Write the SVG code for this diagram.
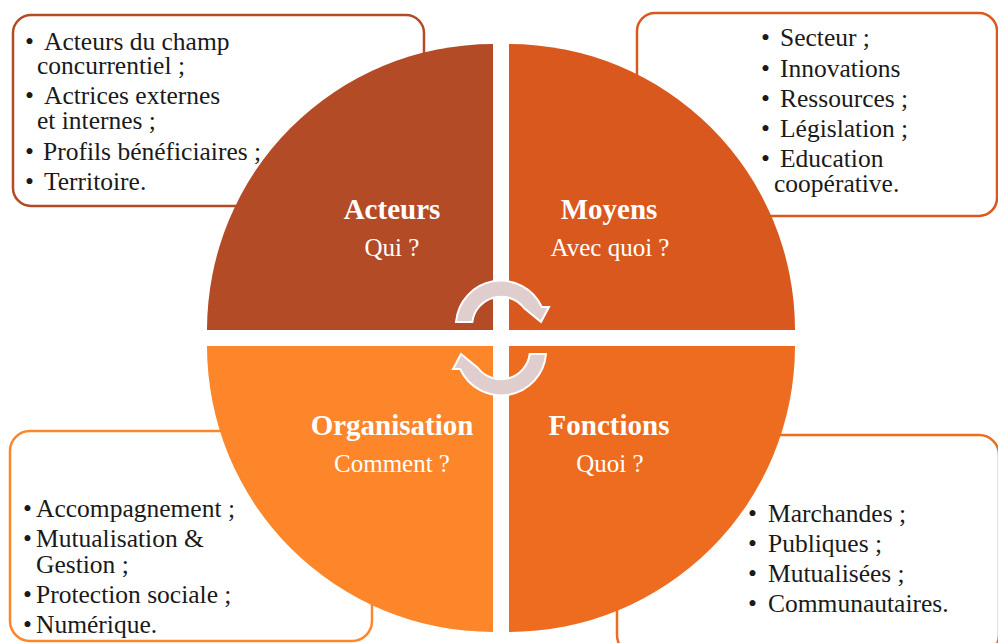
<svg xmlns="http://www.w3.org/2000/svg" width="998" height="643" viewBox="0 0 998 643">
<style>
.box{fill:#fff;stroke-width:2.5}
.body{font-family:"Liberation Serif","Times New Roman",serif;font-size:25.5px;fill:#1a1a1a}
.title{font-family:"Liberation Serif","Times New Roman",serif;font-size:29px;font-weight:bold;fill:#fff;text-anchor:middle}
.sub{font-family:"Liberation Serif","Times New Roman",serif;font-size:25px;fill:#fff;text-anchor:middle}
.arrow{fill:#e0cdcd;stroke:#fff;stroke-width:2;stroke-linejoin:miter}
</style>
<rect width="998" height="643" fill="#fff"/>
<g id="box-acteurs">
<rect class="box" x="13" y="15" width="411" height="191" rx="18" stroke="#b44b27"/>
<text class="body"><tspan x="25" y="50">•</tspan><tspan x="44" y="50">Acteurs du champ</tspan><tspan x="37" y="74">concurrentiel ;</tspan><tspan x="25" y="104">•</tspan><tspan x="44" y="104">Actrices externes</tspan><tspan x="37" y="129">et internes ;</tspan><tspan x="25" y="160">•</tspan><tspan x="43" y="160">Profils bénéficiaires ;</tspan><tspan x="25" y="190">•</tspan><tspan x="44" y="190">Territoire.</tspan></text>
</g>
<g id="box-moyens">
<rect class="box" x="637" y="13" width="360" height="203" rx="18" stroke="#d9581e"/>
<text class="body"><tspan x="761" y="46">•</tspan><tspan x="780" y="46">Secteur ;</tspan><tspan x="761" y="77">•</tspan><tspan x="780" y="77">Innovations</tspan><tspan x="761" y="107">•</tspan><tspan x="780" y="107">Ressources ;</tspan><tspan x="761" y="137">•</tspan><tspan x="780" y="137">Législation ;</tspan><tspan x="761" y="167">•</tspan><tspan x="780" y="167">Education</tspan><tspan x="774" y="192">coopérative.</tspan></text>
</g>
<g id="box-organisation">
<rect class="box" x="10" y="431" width="362" height="210" rx="20" stroke="#fc8629"/>
<text class="body"><tspan x="23" y="517">•</tspan><tspan x="36" y="517">Accompagnement ;</tspan><tspan x="23" y="547">•</tspan><tspan x="36" y="547">Mutualisation &amp;</tspan><tspan x="36" y="573">Gestion ;</tspan><tspan x="23" y="603">•</tspan><tspan x="36" y="603">Protection sociale ;</tspan><tspan x="23" y="633">•</tspan><tspan x="36" y="633">Numérique.</tspan></text>
</g>
<g id="box-fonctions">
<rect class="box" x="617" y="435" width="382" height="220" rx="20" stroke="#ee6c1f"/>
<text class="body"><tspan x="748" y="522">•</tspan><tspan x="768" y="522">Marchandes ;</tspan><tspan x="748" y="552">•</tspan><tspan x="768" y="552">Publiques ;</tspan><tspan x="748" y="582">•</tspan><tspan x="768" y="582">Mutualisées ;</tspan><tspan x="748" y="612">•</tspan><tspan x="768" y="612">Communautaires.</tspan></text>
</g>
<g id="q-acteurs">
<path d="M493,330 L207,330 A286,286 0 0 1 493,44 Z" fill="#b44b27"/>
<text class="title" x="392" y="219">Acteurs</text>
<text class="sub" x="392" y="256">Qui ?</text>
</g>
<g id="q-moyens">
<path d="M509,330 L509,44 A286,286 0 0 1 795,330 Z" fill="#d9581e"/>
<text class="title" x="609" y="219">Moyens</text>
<text class="sub" x="610" y="256">Avec quoi ?</text>
</g>
<g id="q-fonctions">
<path d="M509,346 L795,346 A286,286 0 0 1 509,632 Z" fill="#ee6c1f"/>
<text class="title" x="609" y="435">Fonctions</text>
<text class="sub" x="610" y="472">Quoi ?</text>
</g>
<g id="q-organisation">
<path d="M493,346 L493,632 A286,286 0 0 1 207,346 Z" fill="#fc8629"/>
<text class="title" x="392" y="435">Organisation</text>
<text class="sub" x="392" y="472">Comment ?</text>
</g>
<g id="connectors">
<path id="arrow-top" class="arrow" d="M456,322 A45,45 0 0 1 541.8,307 L549,307 L541,322 L524,308 A29,29 0 0 0 472.3,322 Z"/>
<path id="arrow-bottom" class="arrow" d="M456,322 A45,45 0 0 1 541.8,307 L549,307 L541,322 L524,308 A29,29 0 0 0 472.3,322 Z" transform="rotate(180 501 338)"/>
</g>
</svg>
